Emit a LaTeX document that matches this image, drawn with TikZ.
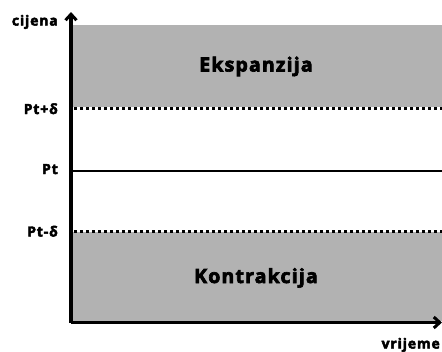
\documentclass[tikz,border=0pt]{standalone}
\usepackage{fontspec}
\setmainfont{Open Sans}
\newfontfamily\hvy{Open Sans Bold}[FakeBold=3.5,LetterSpace=6]
\usetikzlibrary{arrows.meta}
\definecolor{boxgray}{gray}{0.70}
\begin{document}
\begin{tikzpicture}[x=1pt,y=-1pt,
  zone/.style={fill=boxgray,draw=none},
  axis/.style={line width=3.5pt,-{Straight Barb[length=6pt,width=11pt,line width=3pt]}},
  bound/.style={line width=3pt,dash pattern=on 3pt off 3pt},
  level/.style={line width=2.5pt},
  lab/.style={font=\hvy\fontsize{14}{16}\selectfont,anchor=base east,inner sep=0pt},
  big/.style={font=\hvy\fontsize{19.5}{22}\selectfont,anchor=base,inner sep=0pt}]
\useasboundingbox (0,0) rectangle (442,351);
\fill[zone] (73,24.5) rectangle (442,106.5);
\fill[zone] (73,232) rectangle (442,321);
\coordinate (o) at (71,322.5);
\coordinate (ytip) at (71,12);
\coordinate (xtip) at (442,322.5);
\coordinate (ua) at (74,108);
\coordinate (ub) at (442,108);
\coordinate (pa) at (72,171);
\coordinate (pb) at (442,171);
\coordinate (la) at (74,231);
\coordinate (lb) at (442,231);
\draw[bound] (ua) -- (ub);
\draw[level] (pa) -- (pb);
\draw[bound] (la) -- (lb);
\draw[axis] (o) -- (ytip);
\draw[axis] (o) -- (xtip);
\node[lab] (ylab) at (58,25.5) {cijena};
\node[lab] (up) at (58,114) {Pt+δ};
\node[lab] (mid) at (58,174) {Pt};
\node[lab] (lo) at (58,236.5) {Pt-δ};
\node[lab] (xlab) at (440,348.5) {vrijeme};
\node[big] (exp) at (256,71.5) {Ekspanzija};
\node[big] (con) at (256,283) {Kontrakcija};
\end{tikzpicture}
\end{document}
